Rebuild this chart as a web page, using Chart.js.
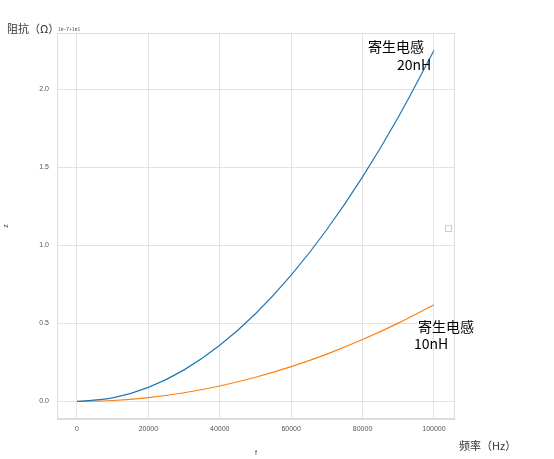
<!DOCTYPE html>
<html><head><meta charset="utf-8">
<script src="https://cdn.jsdelivr.net/npm/chart.js@4"></script>
<style>
body{margin:0;background:#fff;font-family:"Noto Sans CJK SC","Noto Sans",sans-serif;}
#wrap{position:relative;width:554px;height:459px;}
.t{position:absolute;color:#000;white-space:nowrap;}
</style></head><body>
<div id="wrap">
<canvas id="c" width="554" height="459"></canvas>
<div class="t" style="left:7px;top:20px;font-size:11px;color:#333">阻抗（Ω）</div>
<div class="t" style="left:58px;top:25px;font-size:5px;color:#444">1e−7+1e1</div>
<div class="t" style="left:368px;top:36px;font-size:14px;">寄生电感</div>
<div class="t" style="left:397px;top:54px;font-size:14px;">20nH</div>
<div class="t" style="left:418px;top:316px;font-size:14px;">寄生电感</div>
<div class="t" style="left:414px;top:333px;font-size:14px;">10nH</div>
<div class="t" style="left:459px;top:437px;font-size:11px;color:#333">频率（Hz）</div>
<div style="position:absolute;left:445px;top:225px;width:5px;height:5px;border:1px solid #ccc;"></div>
</div>
<script>
const freq = [0, 10000, 20000, 30000, 40000, 50000, 60000, 70000, 80000, 90000, 100000];
const z20nH = [0, 0.0225, 0.09, 0.2025, 0.36, 0.5625, 0.81, 1.1025, 1.44, 1.8225, 2.25];
const z10nH = [0, 0.0062, 0.0248, 0.0558, 0.0992, 0.155, 0.2232, 0.3038, 0.3968, 0.5022, 0.62];
const xTicks = [0, 20000, 40000, 60000, 80000, 100000];
const yTicks = [0, 0.5, 1.0, 1.5, 2.0];

// light frame around the plot area
const frame = {
  id: 'frame',
  afterDraw(chart) {
    const {ctx, chartArea: a} = chart;
    ctx.save();
    ctx.strokeStyle = '#dcdcdc';
    ctx.lineWidth = 1;
    ctx.strokeRect(a.left + 0.5, a.top + 0.5, a.width - 1, a.height - 1);
    ctx.restore();
  }
};

const grid = {color: '#e3e3e3', lineWidth: 1, drawTicks: false};
new Chart(document.getElementById('c'), {
  type: 'line',
  data: {datasets: [
    {data: freq.map((f, i) => ({x: f, y: z20nH[i]})), borderColor: '#1f77b4', borderWidth: 1.2, pointRadius: 0, cubicInterpolationMode: 'monotone'},
    {data: freq.map((f, i) => ({x: f, y: z10nH[i]})), borderColor: '#ff7f0e', borderWidth: 1.2, pointRadius: 0, cubicInterpolationMode: 'monotone'}
  ]},
  options: {
    responsive: false, animation: false,
    layout: {padding: {top: 33, right: 99, left: 0, bottom: 0}},
    plugins: {legend: {display: false}, tooltip: {enabled: false}},
    scales: {
      x: {type: 'linear', min: -5600, max: 105900, grid: grid,
        border: {color: '#ddd'},
        afterBuildTicks: s => { s.ticks = xTicks.map(v => ({value: v})); },
        afterFit: s => { s.height = 40; },
        ticks: {font: {size: 7}, color: '#555', padding: 6, maxRotation: 0, callback: v => String(v)},
        title: {display: true, text: 'f', font: {size: 7}, color: '#444', padding: 2}},
      y: {min: -0.1125, max: 2.3625, grid: grid,
        border: {color: '#ddd'},
        afterBuildTicks: s => { s.ticks = yTicks.map(v => ({value: v})); },
        afterFit: s => { s.width = 57; },
        ticks: {font: {size: 7}, color: '#555', padding: 8, callback: v => v.toFixed(1)},
        title: {display: true, text: 'z', font: {size: 7}, color: '#444', padding: 2}}
    }
  },
  plugins: [frame]
});
</script>
</body></html>
